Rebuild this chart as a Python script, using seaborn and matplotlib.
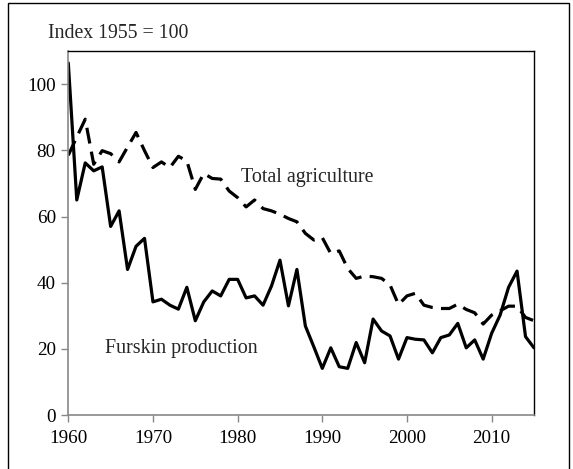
import matplotlib
matplotlib.use("Agg")
import matplotlib.pyplot as plt
import seaborn as sns
import pandas as pd
from matplotlib.patches import Rectangle

years = list(range(1960, 2016))

furskin = [106.4, 65.0, 76.2, 73.8, 75.0, 57.0, 61.7, 44.0, 51.0, 53.4,
           34.2, 35.0, 33.2, 32.0, 38.6, 28.5, 34.2, 37.5, 36.0, 41.0,
           41.0, 35.4, 36.0, 33.2, 39.0, 46.8, 33.0, 44.0, 26.9, 20.6,
           14.1, 20.3, 14.6, 14.1, 21.9, 15.8, 29.0, 25.4, 23.9, 16.9,
           23.4, 22.9, 22.7, 18.8, 23.4, 24.2, 27.7, 20.3, 22.7, 16.9,
           24.7, 30.2, 38.6, 43.5, 23.7, 20.3]

agriculture = [78.5, 84.0, 89.4, 75.8, 79.9, 79.0, 76.5, 81.0, 85.4, 79.9,
               74.8, 76.5, 74.8, 78.2, 76.8, 68.2, 73.0, 71.5, 71.3, 67.7,
               65.7, 62.9, 65.0, 62.4, 61.7, 60.7, 59.4, 58.4, 54.9, 52.9,
               53.6, 48.8, 49.6, 44.3, 41.3, 42.0, 41.8, 41.3, 39.3, 33.4,
               36.0, 36.8, 33.2, 32.5, 32.2, 32.2, 33.5, 31.9, 30.9, 27.5,
               30.2, 31.5, 32.9, 32.9, 29.5, 28.5]

x_ticks = [1960, 1970, 1980, 1990, 2000, 2010]
y_ticks = [0, 20, 40, 60, 80, 100]

sns.set_style("white")
plt.rcParams["font.family"] = ["Liberation Serif", "DejaVu Serif"]

df = pd.DataFrame({"year": years, "furskin": furskin, "agriculture": agriculture})

fig = plt.figure(figsize=(5.73, 4.69), dpi=100)
ax = fig.add_axes([0.1192, 0.1151, 0.8127, 0.776])

sns.lineplot(data=df, x="year", y="agriculture", ax=ax, color="black",
             linewidth=2.3, linestyle=(0, (5, 2.6)))
sns.lineplot(data=df, x="year", y="furskin", ax=ax, color="black",
             linewidth=2.3)

ax.set_xlim(1960, 2015)
ax.set_ylim(0, 110)
ax.set_xticks(x_ticks)
ax.set_yticks(y_ticks)
ax.set_xlabel("")
ax.set_ylabel("")
ax.tick_params(axis="both", labelsize=13.8, colors="#888888", labelcolor="black",
               length=5, width=1, direction="out")
ax.tick_params(axis="x", pad=6)
ax.tick_params(axis="y", pad=4)
ax.tick_params(axis="both", which="both", bottom=True, left=True)

for side in ("left", "bottom"):
    ax.spines[side].set_color("#888888")
    ax.spines[side].set_linewidth(1.2)
for side in ("top", "right"):
    ax.spines[side].set_color("black")
    ax.spines[side].set_linewidth(1.0)

ax.text(1980.35, 71.8, "Total agriculture", fontsize=14.4, va="center", ha="left")
ax.text(1964.3, 20.0, "Furskin production", fontsize=14.4, va="center", ha="left")
fig.text(48 / 573, 1 - 34 / 469, "Index 1955 = 100", fontsize=14.2,
         va="center", ha="left")

# thin frame around the whole figure
fig.patches.append(Rectangle((8 / 573, -0.02), 561 / 573, 1.02 - 3 / 469,
                             transform=fig.transFigure, fill=False,
                             edgecolor="black", linewidth=1.0))

fig.savefig("out.png", dpi=100)
